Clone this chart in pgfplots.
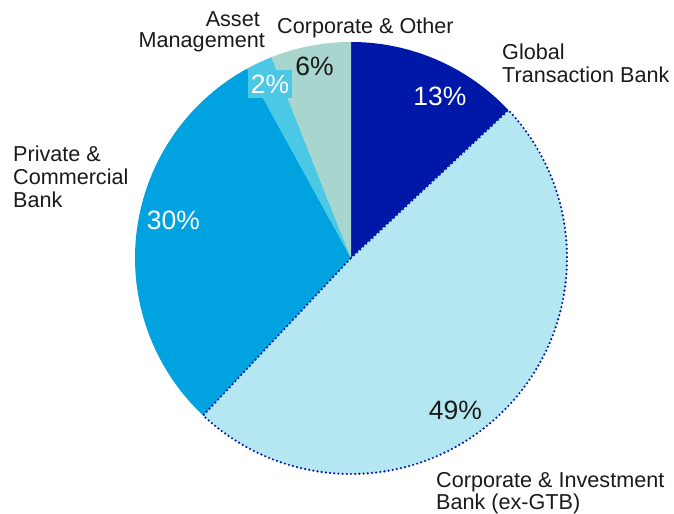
\documentclass[border=0pt]{standalone}
\usepackage{pgfplots}
\pgfplotsset{compat=1.18}
\usepackage{pgfplotstable}
\usepackage{fontspec}
\setmainfont{Liberation Sans}
\definecolor{gtb}{HTML}{0018A8}
\definecolor{cib}{HTML}{B5E7F3}
\definecolor{pcb}{HTML}{00A3E0}
\definecolor{am}{HTML}{4BC8E3}
\definecolor{co}{HTML}{A8D5CD}
\definecolor{txt}{HTML}{1A1A1A}

% share of revenues, clockwise from 12 o'clock
\pgfplotstableread{
name value color dotted
GTB  13 gtb 0
CIB  49 cib 1
PCB  30 pcb 0
AM    2 am  0
CO    6 co  0
}\slices

\newcommand{\lab}{\fontsize{21.6bp}{24bp}\selectfont}
\newcommand{\pct}{\fontsize{26.5bp}{30bp}\selectfont}

\begin{document}
\begin{tikzpicture}
\begin{axis}[
  width=674bp, height=514bp, scale only axis,
  xmin=0, xmax=674, ymin=0, ymax=514,
  hide axis, clip=false,
]
\path (axis cs:0,0) rectangle (axis cs:674,514);
\def\cum{0}
\pgfplotsforeachungrouped \i in {0,...,4}{%
  \pgfplotstablegetelem{\i}{value}\of\slices \let\val\pgfplotsretval
  \pgfplotstablegetelem{\i}{color}\of\slices \let\col\pgfplotsretval
  \pgfmathsetmacro\a{90-3.6*\cum}%
  \pgfmathsetmacro\b{90-3.6*(\cum+\val)}%
  \edef\cmd{\noexpand\fill[\col] (axis cs:351,256) -- ++(\a:216bp)
    arc[start angle=\a, end angle=\b, radius=216bp] -- cycle;}%
  \cmd
  \pgfplotstablegetelem{\i}{dotted}\of\slices
  \ifnum\pgfplotsretval=1 \let\dA\a \let\dB\b \fi
  \pgfmathsetmacro\cum{\cum+\val}%
}
\edef\cmd{\noexpand\draw[gtb, line width=2.4bp, line cap=round,
  dash pattern=on 0bp off 4.2bp] (axis cs:351,256) -- ++(\dA:216bp)
  arc[start angle=\dA, end angle=\dB, radius=216bp] -- cycle;}
\cmd

% percentages
\node[white, font=\pct] at (axis cs:440,418) {13\%};
\node[txt, font=\pct] at (axis cs:455.5,103.5) {49\%};
\node[white, font=\pct] at (axis cs:173.5,294) {30\%};
\node[white, font=\pct, fill=am, inner sep=0pt, minimum width=44bp,
  minimum height=28bp] at (axis cs:270,430) {2\%};
\node[txt, font=\pct] at (axis cs:314.5,447.5) {6\%};

% category labels
\node[txt, font=\lab, anchor=base west, inner sep=0pt] at (axis cs:502,454) {Global};
\node[txt, font=\lab, anchor=base west, inner sep=0pt] at (axis cs:502,431) {Transaction Bank};
\node[txt, font=\lab, anchor=base west, inner sep=0pt] at (axis cs:277,480) {Corporate \& Other};
\node[txt, font=\lab, anchor=base east, inner sep=0pt] at (axis cs:260,487) {Asset};
\node[txt, font=\lab, anchor=base east, inner sep=0pt] at (axis cs:265,466) {Management};
\node[txt, font=\lab, anchor=base west, inner sep=0pt] at (axis cs:13,352) {Private \&};
\node[txt, font=\lab, anchor=base west, inner sep=0pt] at (axis cs:13,329) {Commercial};
\node[txt, font=\lab, anchor=base west, inner sep=0pt] at (axis cs:13,306) {Bank};
\node[txt, font=\lab, anchor=base west, inner sep=0pt] at (axis cs:436,27) {Corporate \& Investment};
\node[txt, font=\lab, anchor=base west, inner sep=0pt] at (axis cs:436,5) {Bank (ex-GTB)};
\end{axis}
\end{tikzpicture}
\end{document}
